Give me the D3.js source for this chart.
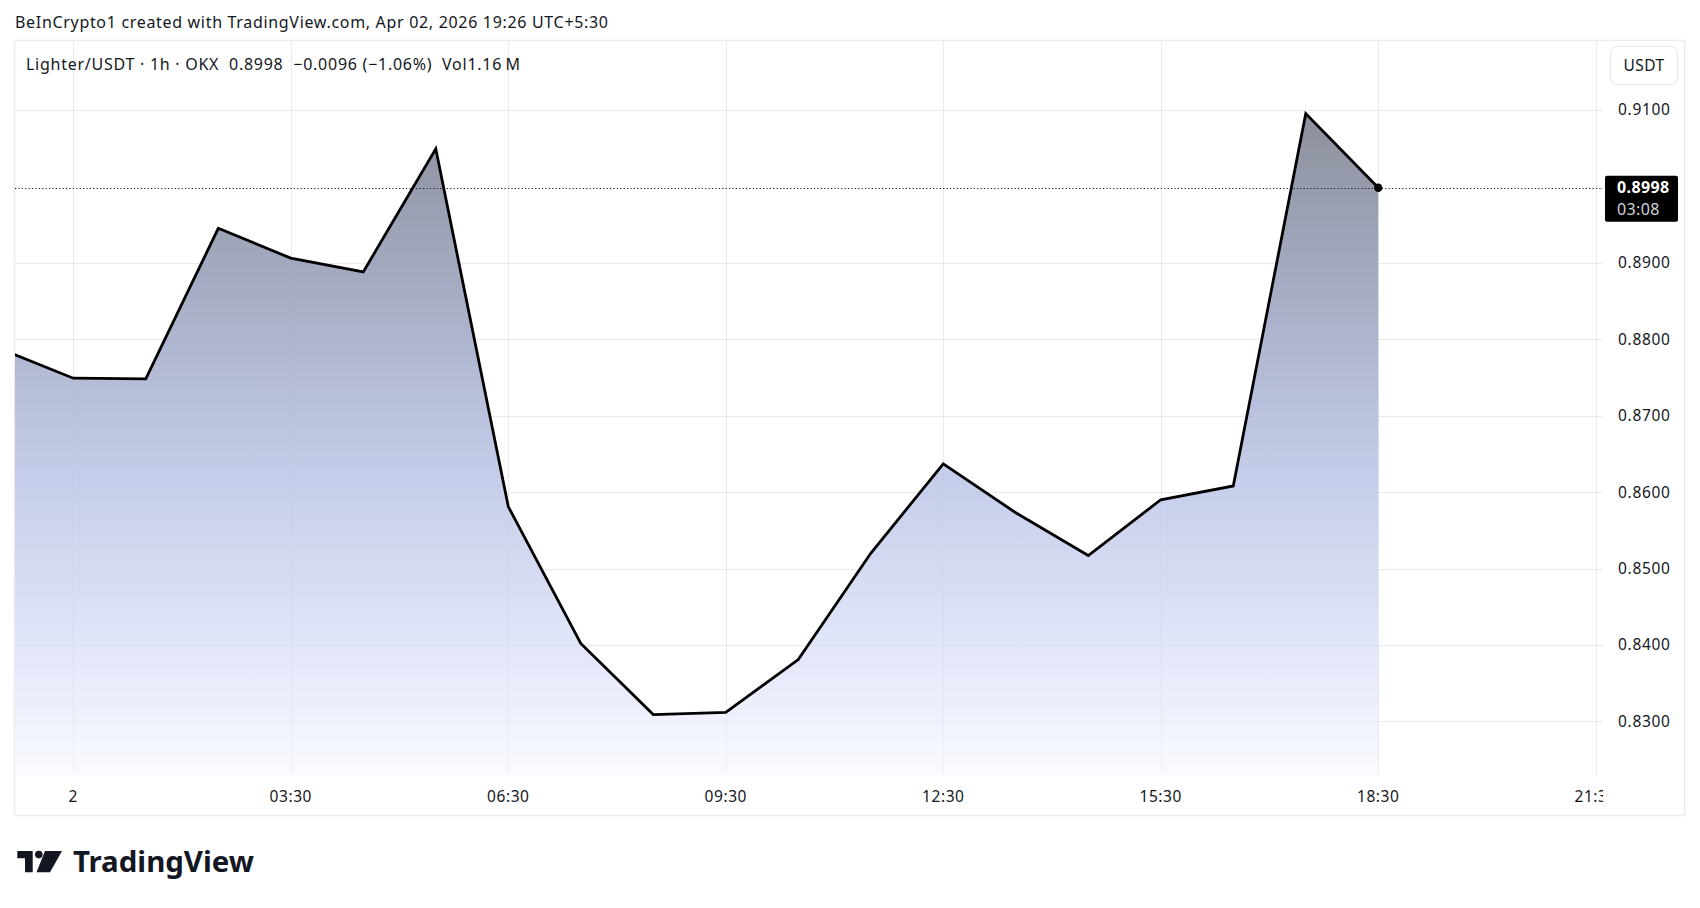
<!DOCTYPE html>
<html>
<head>
<meta charset="utf-8">
<script src="https://cdn.jsdelivr.net/npm/d3@7"></script>
<style>
  html, body { margin: 0; padding: 0; background: #ffffff; }
  svg { display: block; }
  text { font-family: "Noto Sans", "DejaVu Sans", sans-serif; fill: #131722; }
</style>
</head>
<body>
<svg id="chart" width="1700" height="908"></svg>
<script>
// ---- data ----
const hours = [-0.5, 0.5, 1.5, 2.5, 3.5, 4.5, 5.5, 6.5, 7.5, 8.5, 9.5, 10.5, 11.5, 12.5, 13.5, 14.5, 15.5, 16.5, 17.5, 18.5];
const prices = [0.8787, 0.8749, 0.8748, 0.8945, 0.8906, 0.8888, 0.9049, 0.8581, 0.8402, 0.8309, 0.8312, 0.8381, 0.8520, 0.8637, 0.8573, 0.8517, 0.8590, 0.8608, 0.9095, 0.8998];
const timeTicks = [0.5, 3.5, 6.5, 9.5, 12.5, 15.5, 18.5, 21.5];
const timeTickLabels = ["2", "03:30", "06:30", "09:30", "12:30", "15:30", "18:30", "21:30"];
const priceTicks = [0.83, 0.84, 0.85, 0.86, 0.87, 0.88, 0.89, 0.91];
const lastPrice = 0.8998;
const lastCountdown = "03:08";
const headerText = "BeInCrypto1 created with TradingView.com, Apr 02, 2026 19:26 UTC+5:30";
const legendText = "Lighter/USDT · 1h · OKX  0.8998  −0.0096 (−1.06%)  Vol1.16\u2009M";
const currencyLabel = "USDT";

// ---- layout ----
const frame = { left: 15, top: 41, right: 1685, bottom: 816 };
const plot = { left: 15, top: 41, right: 1603, bottom: 775 };

const svg = d3.select("#chart");

const x = d3.scaleLinear().domain([-0.304, 21.6]).range([plot.left, plot.right]);
const y = d3.scaleLinear().domain([0.8230, 0.9190]).range([plot.bottom, plot.top]);

// header
svg.append("text").attr("x", 15).attr("y", 28)
  .attr("font-size", 16).attr("textLength", 593).attr("lengthAdjust", "spacing").text(headerText);

// outer frame
svg.append("rect")
  .attr("x", frame.left - 0.5).attr("y", frame.top - 0.5)
  .attr("width", frame.right - frame.left).attr("height", frame.bottom - frame.top)
  .attr("fill", "none").attr("stroke", "#ececec").attr("stroke-width", 1.5);

const defs = svg.append("defs");
defs.append("clipPath").attr("id", "plotclip")
  .append("rect").attr("x", plot.left).attr("y", plot.top)
  .attr("width", plot.right - plot.left).attr("height", plot.bottom - plot.top);

const grad = defs.append("linearGradient")
  .attr("id", "areaGrad").attr("gradientUnits", "userSpaceOnUse")
  .attr("x1", 0).attr("x2", 0).attr("y1", y(0.9095)).attr("y2", plot.bottom);
[[0, "#8c909c"], [0.28, "#a8aec6"], [0.55, "#c6cdea"], [0.82, "#e3e7f9"], [1, "#fafbff"]]
  .forEach(([o, c]) => grad.append("stop").attr("offset", o).attr("stop-color", c));

// grid
const grid = svg.append("g");
grid.selectAll("line.h").data(priceTicks).join("line")
  .attr("x1", plot.left).attr("x2", plot.right)
  .attr("y1", d => Math.round(y(d)) + 0.5).attr("y2", d => Math.round(y(d)) + 0.5)
  .attr("stroke", "#f0f1f4").attr("stroke-width", 1);
grid.selectAll("line.v").data(timeTicks).join("line")
  .attr("y1", plot.top).attr("y2", plot.bottom)
  .attr("x1", d => Math.round(x(d)) + 0.5).attr("x2", d => Math.round(x(d)) + 0.5)
  .attr("stroke", "#f0f1f4").attr("stroke-width", 1);

const series = hours.map((h, i) => ({ h, p: prices[i] }));
const plotG = svg.append("g").attr("clip-path", "url(#plotclip)");

const area = d3.area().x(d => x(d.h)).y0(plot.bottom).y1(d => y(d.p));
plotG.append("path").datum(series).attr("d", area).attr("fill", "url(#areaGrad)");

// faint grid visible through the area
plotG.selectAll("line.hv").data(priceTicks).join("line")
  .attr("x1", plot.left).attr("x2", plot.right)
  .attr("y1", d => Math.round(y(d)) + 0.5).attr("y2", d => Math.round(y(d)) + 0.5)
  .attr("stroke", "rgba(120,130,160,0.06)");
plotG.selectAll("line.vv").data(timeTicks).join("line")
  .attr("y1", plot.top).attr("y2", plot.bottom)
  .attr("x1", d => Math.round(x(d)) + 0.5).attr("x2", d => Math.round(x(d)) + 0.5)
  .attr("stroke", "rgba(120,130,160,0.06)");

// last price dotted line
plotG.append("line")
  .attr("x1", plot.left).attr("x2", plot.right)
  .attr("y1", Math.round(y(lastPrice)) + 0.5).attr("y2", Math.round(y(lastPrice)) + 0.5)
  .attr("stroke", "#131722").attr("stroke-width", 1).attr("stroke-dasharray", "1.2,2.2");

const line = d3.line().x(d => x(d.h)).y(d => y(d.p));
plotG.append("path").datum(series).attr("d", line)
  .attr("fill", "none").attr("stroke", "#000000").attr("stroke-width", 2.8)
  .attr("stroke-linejoin", "miter");

const last = series[series.length - 1];
plotG.append("circle").attr("cx", x(last.h)).attr("cy", y(last.p)).attr("r", 4.2).attr("fill", "#000");

// legend
svg.append("text").attr("x", 26).attr("y", 69.5)
  .attr("font-size", 16).attr("textLength", 494).attr("lengthAdjust", "spacing")
  .attr("xml:space", "preserve").style("white-space", "pre").text(legendText);

// price axis
const pAxis = svg.append("g");
pAxis.selectAll("text").data(priceTicks).join("text")
  .attr("x", 1618).attr("y", d => y(d)).attr("dy", "0.35em")
  .attr("font-size", 15.5).style("letter-spacing", "0.7px").text(d => d3.format(".4f")(d));

// currency button
svg.append("rect").attr("x", 1610.5).attr("y", 46.5).attr("width", 67).attr("height", 38)
  .attr("rx", 6).attr("fill", "#fff").attr("stroke", "#e6e7ea");
svg.append("text").attr("x", 1644).attr("y", 66).attr("dy", "0.35em")
  .attr("text-anchor", "middle").attr("font-size", 15.5).style("letter-spacing", "0.4px").text(currencyLabel);

// last price tag
const ly = y(lastPrice);
svg.append("rect").attr("x", 1605).attr("y", ly - 12).attr("width", 73).attr("height", 46)
  .attr("rx", 2).attr("fill", "#000");
svg.append("text").attr("x", 1617).attr("y", ly).attr("dy", "0.35em")
  .attr("font-size", 16).attr("font-weight", "bold").style("fill", "#ffffff").style("letter-spacing", "0.4px")
  .text(d3.format(".4f")(lastPrice));
svg.append("text").attr("x", 1617).attr("y", ly + 22).attr("dy", "0.35em")
  .attr("font-size", 16).style("fill", "#d1d4dc").style("letter-spacing", "0.4px").text(lastCountdown);

// time axis
defs.append("clipPath").attr("id", "timeclip")
  .append("rect").attr("x", plot.left).attr("y", plot.bottom).attr("width", plot.right - plot.left).attr("height", 40);
const tAxis = svg.append("g").attr("clip-path", "url(#timeclip)");
tAxis.selectAll("text").data(timeTicks).join("text")
  .attr("x", d => x(d)).attr("y", 797).attr("dy", "0.35em")
  .attr("text-anchor", "middle").attr("font-size", 15.5).style("letter-spacing", "0.6px")
  .text((d, i) => timeTickLabels[i]);

// TradingView logo
const logo = svg.append("g").attr("fill", "#131722");
logo.append("path").attr("d", "M17.3,851 H32.7 V872.3 H25 V858.3 H17.3 Z");
logo.append("circle").attr("cx", 38.8).attr("cy", 854.6).attr("r", 3.8);
logo.append("path").attr("d", "M45,851 H62 L50,872.3 H36.5 Z");
svg.append("text").attr("x", 73).attr("y", 872.3)
  .attr("font-size", 28.5).attr("font-weight", "bold").attr("textLength", 181)
  .attr("lengthAdjust", "spacingAndGlyphs").text("TradingView");
</script>
</body>
</html>
